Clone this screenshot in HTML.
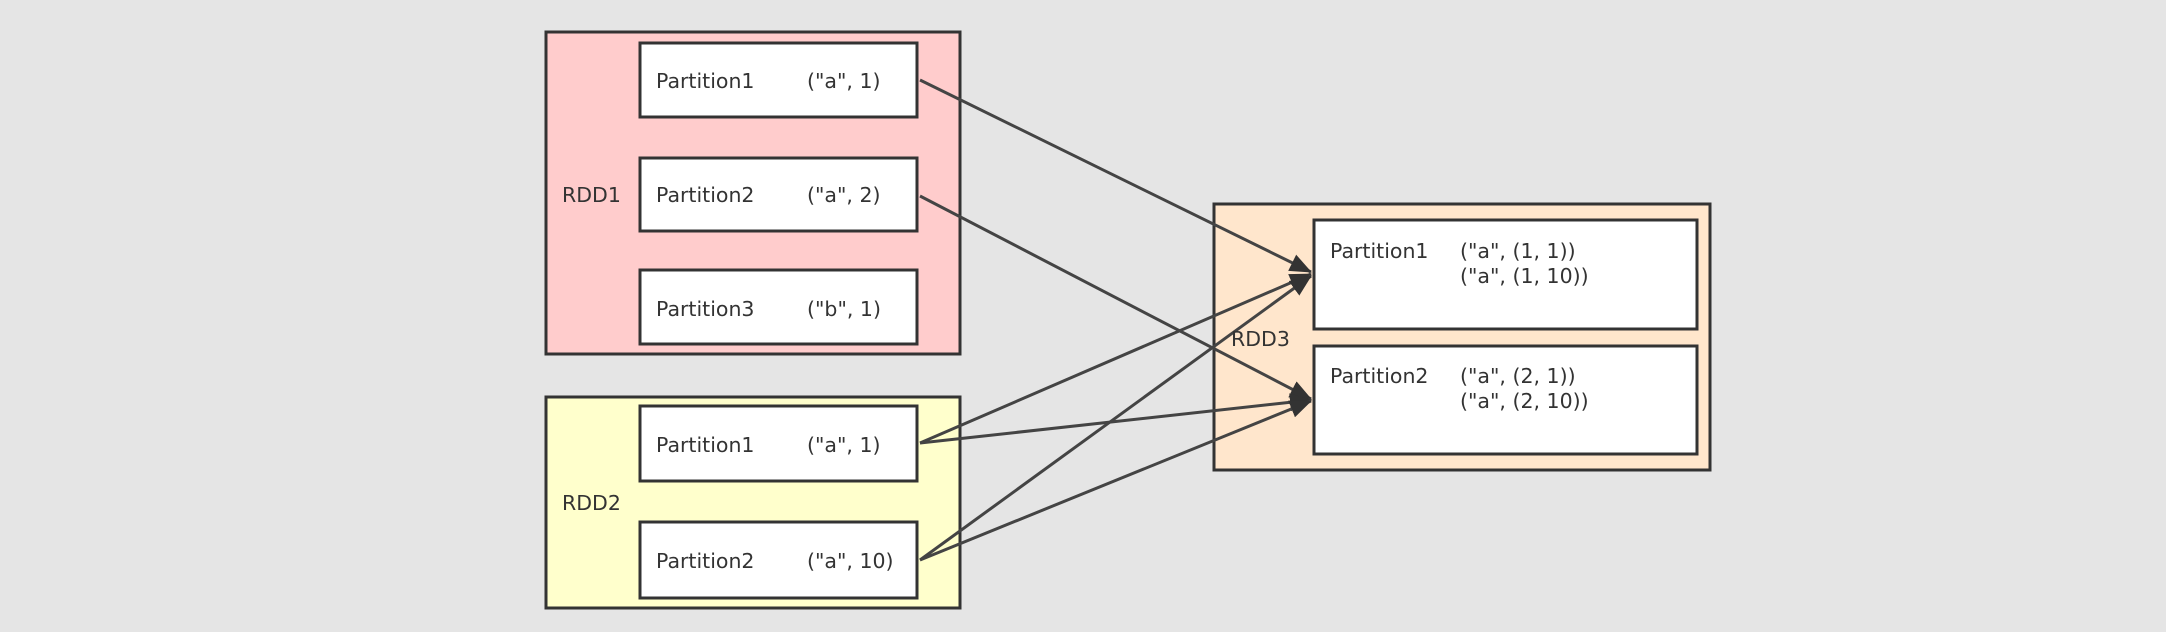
<!DOCTYPE html>
<html><head><meta charset="utf-8"><style>
html,body{margin:0;padding:0;background:#e5e5e5;}
svg{display:block}
text{font-family:"DejaVu Sans","Liberation Sans",sans-serif;font-size:20.5px;fill:#333;}
</style></head><body>
<svg width="2166" height="632" viewBox="0 0 2166 632">
<defs>
<marker id="b" viewBox="0 0 22 18" refX="21" refY="9" markerWidth="22" markerHeight="18" orient="auto" markerUnits="userSpaceOnUse"><path d="M0,0 L22,9 L0,18 z" fill="#333"/></marker></defs>
<g stroke="#333" stroke-width="3">
<rect x="546" y="32" width="414" height="322" fill="#ffcccc"/>
<rect x="546" y="397" width="414" height="211" fill="#ffffcc"/>
<rect x="1214" y="204" width="496" height="266" fill="#ffe6cc"/>
<rect x="640" y="43" width="277" height="74" fill="#fff"/>
<rect x="640" y="158" width="277" height="73" fill="#fff"/>
<rect x="640" y="270" width="277" height="74" fill="#fff"/>
<rect x="640" y="406" width="277" height="75" fill="#fff"/>
<rect x="640" y="522" width="277" height="76" fill="#fff"/>
<rect x="1314" y="220" width="383" height="109" fill="#fff"/>
<rect x="1314" y="346" width="383" height="108" fill="#fff"/>
</g>
<g stroke="#444" stroke-width="3" fill="none">
<line x1="920" y1="80" x2="1311" y2="272" marker-end="url(#b)"/>
<line x1="920" y1="196" x2="1311" y2="399" marker-end="url(#b)"/>
<line x1="920" y1="443" x2="1311" y2="274" marker-end="url(#b)"/>
<line x1="920" y1="443" x2="1311" y2="400" marker-end="url(#b)"/>
<line x1="920" y1="560" x2="1311" y2="276" marker-end="url(#b)"/>
<line x1="920" y1="560" x2="1311" y2="401" marker-end="url(#b)"/>
</g>
<text x="562" y="202">RDD1</text>
<text x="562" y="510">RDD2</text>
<text x="1231" y="346">RDD3</text>
<text x="656" y="88">Partition1</text><text x="807" y="88">("a", 1)</text>
<text x="656" y="202">Partition2</text><text x="807" y="202">("a", 2)</text>
<text x="656" y="316">Partition3</text><text x="807" y="316">("b", 1)</text>
<text x="656" y="452">Partition1</text><text x="807" y="452">("a", 1)</text>
<text x="656" y="568">Partition2</text><text x="807" y="568">("a", 10)</text>
<text x="1330" y="258">Partition1</text><text x="1460" y="258">("a", (1, 1))</text><text x="1460" y="283">("a", (1, 10))</text>
<text x="1330" y="383">Partition2</text><text x="1460" y="383">("a", (2, 1))</text><text x="1460" y="408">("a", (2, 10))</text>
</svg>
</body></html>
